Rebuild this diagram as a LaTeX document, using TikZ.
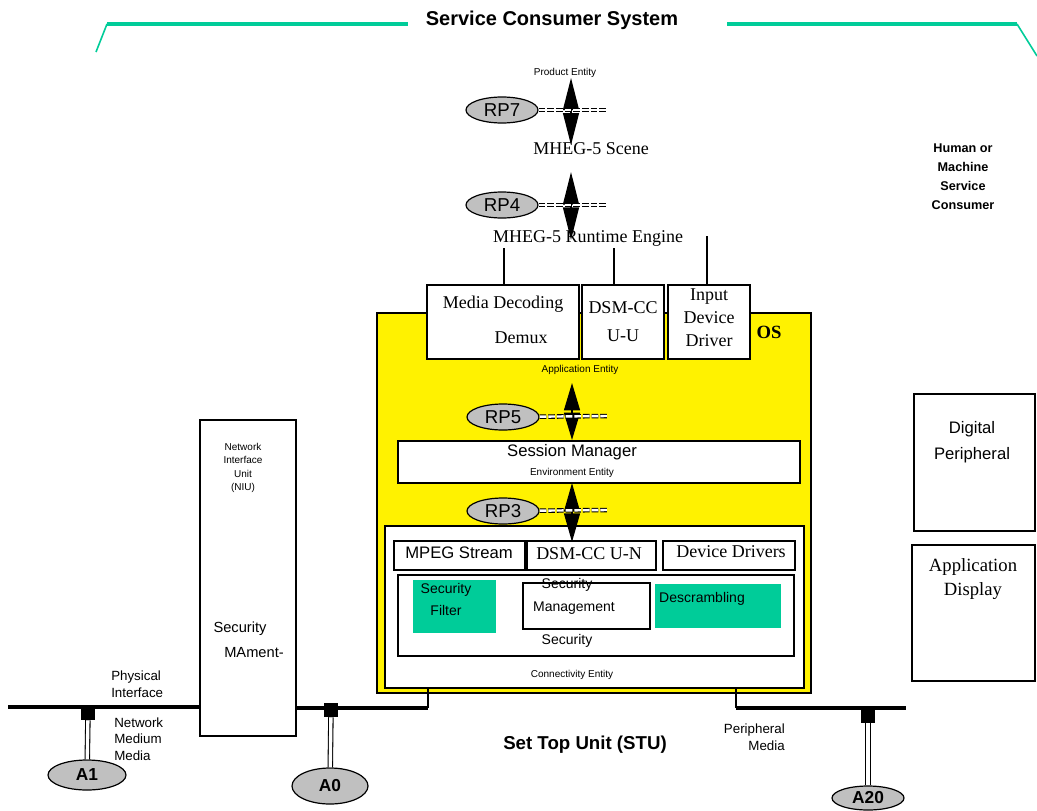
\documentclass[tikz,border=0pt]{standalone}
\usepackage{fontspec}
\setmainfont{Liberation Serif}
\setsansfont{Liberation Sans}
\usetikzlibrary{arrows.meta}
\usetikzlibrary{fit}
\usetikzlibrary{shapes.geometric}
\definecolor{sysgreen}{RGB}{0,204,153}
\definecolor{osyellow}{RGB}{255,242,0}
\definecolor{rpgrey}{RGB}{192,192,192}
\newcommand{\mytiny}{\sffamily\fontsize{7.5}{10}\selectfont}
\newcommand{\mysmall}{\sffamily\fontsize{10}{12.5}\selectfont}
\newcommand{\mymid}{\sffamily\fontsize{10.5}{16.5}\selectfont}
\newcommand{\mysans}{\sffamily\fontsize{12.5}{19.5}\selectfont}
\newcommand{\myserif}{\rmfamily\fontsize{13.5}{17.25}\selectfont}
\newcommand{\mybold}{\sffamily\bfseries\fontsize{13}{16}\selectfont}
\tikzset{
semithick, % all lines semithick
every node/.style={inner sep=0pt},
wire/.style={line width=1pt},
box/.style={draw,line width=1pt,fill=white},
os box/.style={box,fill=osyellow},
green box/.style={fill=sysgreen},
rp/.style={draw,ellipse,line width=0.9pt,fill=rpgrey,minimum width=54pt,minimum height=19.5pt,
  font=\sffamily\fontsize{14}{16}\selectfont},
port/.style={rp,font=\mybold},
plug/.style={fill=black,minimum size=10.5pt},
plug line/.style={double,double distance=2.5pt,line width=0.8pt},
rp link/.style={double,double distance=1.8pt,line width=0.8pt,dash pattern=on 5pt off 1.5pt},
rp arrow/.style={line width=1pt,arrows={Triangle[length=#1,width=12pt]-Triangle[length=#1,width=12pt]}},
bus/.style={line width=3pt},
frame bar/.style={draw=sysgreen,line width=3.5pt},
frame edge/.style={draw=sysgreen,line width=1.2pt}
}
\begin{document}
\begin{tikzpicture}[x=0.75pt,y=-0.75pt]
\useasboundingbox (0,0) rectangle (1037,810);
% service consumer system
\node[font=\sffamily\bfseries\fontsize{15}{17}\selectfont] (consumer) at (552,20) {Service Consumer System};
\coordinate (fl0) at (96,52);
\coordinate (fl1) at (107,24);
\coordinate (fl2) at (408,24);
\coordinate (fr2) at (727,24);
\coordinate (fr1) at (1017,24);
\coordinate (fr0) at (1037,56);
\draw[frame edge] (fl0) -- (fl1);
\draw[frame bar] (fl1) -- (fl2);
\draw[frame bar] (fr2) -- (fr1);
\draw[frame edge] (fr1) -- (fr0);
\node[font=\sffamily\bfseries\fontsize{9.5}{14.3}\selectfont,align=center] (human) at (963,177) {Human or\\Machine\\Service\\Consumer};
% mheg layers
\node[font=\mytiny] (product) at (565,73) {Product Entity};
\node[font=\myserif] (scene) at (591,149) {MHEG-5 Scene};
\node[font=\myserif] (engine) at (588,238) {MHEG-5 Runtime Engine};
\node[rp] (rp7) at (502,110) {RP7};
\node[rp] (rp4) at (502,205) {RP4};
% set top unit
\node[os box,fit={(377,313) (811,693)}] (os) {};
\node[font=\rmfamily\bfseries\fontsize{14}{16}\selectfont] (os label) at (769,332) {OS};
\node[box,fit={(427,285) (579,359)}] (media) {};
\node[font=\myserif] (media text) at (503,304) {Media Decoding};
\node[font=\myserif] (demux) at (521,338) {Demux};
\node[box,fit={(582,285) (664,359)}] (dsmuu) {};
\node[font=\rmfamily\fontsize{13.5}{21}\selectfont,align=center] (dsmuu text) at (623,322) {DSM-CC\\U-U};
\node[box,fit={(668,285) (750,359)}] (input) {};
\node[font=\myserif,align=center] (input text) at (709,318) {Input\\Device\\Driver};
\coordinate (eng1) at (504,248);
\coordinate (eng2) at (614,248);
\coordinate (eng3) at (707,236);
\draw[wire] (eng1) -- (eng1 |- media.north);
\draw[wire] (eng2) -- (eng2 |- dsmuu.north);
\draw[wire] (eng3) -- (eng3 |- input.north);
\node[font=\mytiny] (application) at (580,370) {Application Entity};
\node[box,fit={(398,441) (800,483)}] (session) {};
\node[font=\mysans] (session text) at (572,452) {Session Manager};
\node[font=\mytiny] (environment) at (572,473) {Environment Entity};
\node[rp] (rp5) at (503,417) {RP5};
\node[rp] (rp3) at (503,511) {RP3};
\node[box,fit={(385,526) (804,688)}] (conn) {};
\node[box,fit={(394,541) (525,570)}] (mpeg) {};
\node[font=\sffamily\fontsize{12.5}{15}\selectfont] (mpeg text) at (459,553) {MPEG Stream};
\node[box,fit={(527,541) (656,570)}] (dsmun) {};
\node[font=\myserif] (dsmun text) at (589,554) {DSM-CC U-N};
\node[box,fit={(663,541) (795,570)}] (drivers) {};
\node[font=\myserif] (drivers text) at (731,552) {Device Drivers};
\node[box,fit={(398,575) (794,656)}] (security) {};
\node[green box,fit={(413,580) (496,633)}] (filter) {};
\node[font=\mymid,align=center] (filter text) at (446,599) {Security\\Filter};
\node[box,fit={(523,583) (650,629)}] (management) {};
\node[font=\mymid] (management top) at (567,585) {Security};
\node[font=\mymid] (management text) at (574,608) {Management};
\node[green box,fit={(655,584) (781,628)}] (descrambling) {};
\node[font=\mymid] (descrambling text) at (702,599) {Descrambling};
\node[font=\mymid] (security text) at (567,641) {Security};
\node[font=\mytiny] (connectivity) at (572,675) {Connectivity Entity};
% reference points
\coordinate (rp7 top) at (571,78);
\coordinate (rp7 bot) at (571,145);
\coordinate (rp4 top) at (571,172);
\coordinate (rp4 bot) at (571,240);
\coordinate (rp5 top) at (572,383);
\coordinate (rp5 bot) at (572,440);
\coordinate (rp3 top) at (572,483);
\coordinate (rp3 bot) at (572,542);
\draw[rp arrow=24pt] (rp7 top) -- (rp7 bot);
\draw[rp arrow=24.5pt] (rp4 top) -- (rp4 bot);
\draw[rp arrow=20.5pt] (rp5 top) -- (rp5 bot);
\draw[rp arrow=21.5pt] (rp3 top) -- (rp3 bot);
\coordinate (rp7 end) at (607,110);
\coordinate (rp4 end) at (607,205);
\coordinate (rp5 end) at (608,416);
\coordinate (rp3 end) at (608,510);
\draw[rp link] (rp7) -- (rp7 end);
\draw[rp link] (rp4) -- (rp4 end);
\draw[rp link] (rp5) -- (rp5 end);
\draw[rp link] (rp3) -- (rp3 end);
% network interface unit
\node[box,fit={(200,420) (296,736)}] (niu) {};
\node[font=\mytiny,align=center] (niu text) at (243,468) {Network\\Interface\\Unit\\(NIU)};
\node[font=\sffamily\fontsize{11}{14}\selectfont] (niu security) at (240,629) {Security};
\node[font=\sffamily\fontsize{11}{14}\selectfont] (niu mament) at (254,653) {MAment-};
% physical interface and peripheral media
\coordinate (bus west) at (8,707);
\coordinate (bus left) at (428,708);
\coordinate (bus right) at (736,708);
\coordinate (bus east) at (906,708);
\draw[bus] (bus west) -- (bus west -| niu.west);
\draw[bus] (niu.east |- bus left) -- (bus left);
\draw[wire] (bus left) -- (bus left |- conn.south);
\draw[bus] (bus right) -- (bus east);
\draw[wire] (bus right) -- (bus right |- conn.south);
\node[plug] (plug a1) at (88,713) {};
\node[plug] (plug a0) at (331,710) {};
\node[plug] (plug a20) at (868,716) {};
\node[port,minimum width=58.5pt,minimum height=22.5pt] (a1) at (87,775) {A1};
\node[port,minimum width=57pt,minimum height=27pt] (a0) at (330,786) {A0};
\node[port,minimum width=54pt,minimum height=18pt] (a20) at (868,798) {A20};
\draw[plug line] (plug a1) -- (a1);
\draw[plug line] (plug a0) -- (a0);
\draw[plug line] (plug a20) -- (a20);
\node[font=\mysmall,align=left,anchor=west] (physical) at (111,684) {Physical\\Interface};
\node[font=\mysmall,align=left,anchor=west] (medium) at (114,739) {Network\\Medium\\Media};
\node[font=\mysmall,align=right,anchor=east] (peripheral) at (785,737) {Peripheral\\Media};
\node[font=\sffamily\bfseries\fontsize{14}{16}\selectfont] (stu) at (585,745) {Set Top Unit (STU)};
% peripherals
\node[box,fit={(914,394) (1035,531)}] (digital) {};
\node[font=\mysans,align=center] (digital text) at (972,442) {Digital\\Peripheral};
\node[box,fit={(912,545) (1035,681)}] (display) {};
\node[font=\rmfamily\fontsize{14}{18}\selectfont,align=center] (display text) at (973,579) {Application\\Display};
\end{tikzpicture}
\end{document}
